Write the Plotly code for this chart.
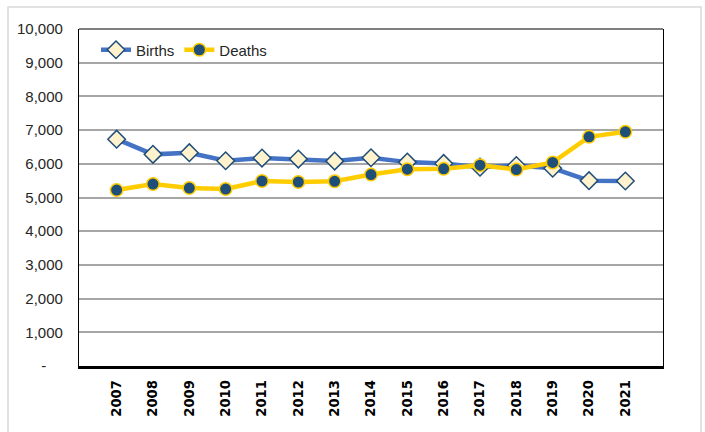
import plotly.graph_objects as go

years = ["2007", "2008", "2009", "2010", "2011", "2012", "2013", "2014",
         "2015", "2016", "2017", "2018", "2019", "2020", "2021"]
births = [6730, 6280, 6330, 6090, 6170, 6140, 6080, 6180,
          6050, 6010, 5900, 5950, 5870, 5500, 5490]
deaths = [5220, 5400, 5280, 5250, 5490, 5460, 5480, 5680,
          5840, 5850, 5960, 5830, 6040, 6800, 6950]
y_ticks = [0, 1000, 2000, 3000, 4000, 5000, 6000, 7000, 8000, 9000, 10000]
y_ticktext = ["-\u00a0\u00a0\u00a0\u00a0"] + [f"{v:,}" for v in y_ticks[1:]]

NARROW = "Liberation Sans Narrow, Arial Narrow, Liberation Sans, Arial, sans-serif"

fig = go.Figure()
fig.add_trace(go.Scatter(
    x=years, y=births, name="Births", mode="lines+markers",
    line=dict(color="#4472C4", width=4.5),
    marker=dict(symbol="diamond", size=13.5, color="#FFF2CC",
                line=dict(color="#1F4E79", width=1.5)),
))
fig.add_trace(go.Scatter(
    x=years, y=deaths, name="Deaths", mode="lines+markers",
    line=dict(color="#FFCC00", width=4.5),
    marker=dict(symbol="circle", size=12.5, color="#1F4E79",
                line=dict(color="#FFCC00", width=1.5)),
))

L, R, T, B = 79, 663, 29, 366
W, H = 705, 432
pw, ph = R - L, B - T

fig.update_layout(
    width=W, height=H,
    margin=dict(l=L, r=W - R, t=T, b=H - B),
    paper_bgcolor="white", plot_bgcolor="white",
    showlegend=True,
    legend=dict(orientation="h", x=(96 - L) / pw, y=1 - (50 - T) / ph,
                xanchor="left", yanchor="middle",
                font=dict(family=NARROW, size=15, color="#262626"),
                bgcolor="rgba(0,0,0,0)", itemwidth=30, tracegroupgap=0),
    xaxis=dict(type="category", tickangle=-90, showgrid=False,
               showline=True, linecolor="black", linewidth=2.5,
               ticks="", ticklabelstandoff=6,
               tickfont=dict(family="DejaVu Sans", size=13.2, color="black",
                             weight="bold")),
    yaxis=dict(range=[0, 10000], tickvals=y_ticks, ticktext=y_ticktext,
               showgrid=True, gridcolor="#A6A6A6", gridwidth=1.5,
               showline=True, linecolor="black", linewidth=1.2, mirror=True,
               zeroline=False, ticks="", ticklabelstandoff=12,
               tickfont=dict(family=NARROW, size=15, color="#262626")),
    shapes=[
        dict(type="line", xref="paper", yref="paper", x0=0, x1=1, y0=1, y1=1,
             line=dict(color="black", width=1.2), layer="above"),
        dict(type="rect", xref="paper", yref="paper",
             x0=(8 - L) / pw, x1=(701 - L) / pw,
             y0=-(433 - B) / ph, y1=1 + (T - 7) / ph,
             line=dict(color="#D9D9D9", width=1.5), layer="below"),
    ],
)

fig.write_html("out.html", config={"displayModeBar": False},
               post_script="document.body.style.margin='0';document.body.style.overflow='hidden';")
